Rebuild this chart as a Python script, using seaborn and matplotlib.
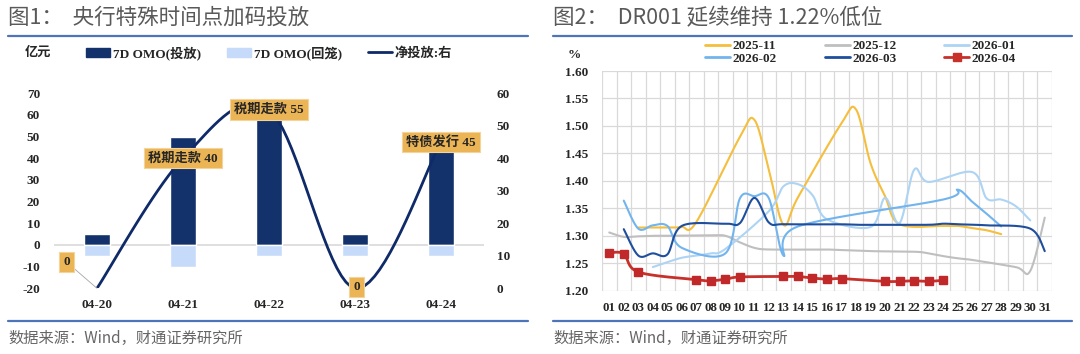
import matplotlib
matplotlib.use("Agg")
import matplotlib.pyplot as plt
import numpy as np
import pandas as pd
import seaborn as sns
from matplotlib.lines import Line2D
from matplotlib.patches import Patch

# ---- 图1 数据 ----
dates = ["04-20", "04-21", "04-22", "04-23", "04-24"]
omo_inject = [5, 50, 60, 5, 50]
omo_mature = [-5, -10, -5, -5, -5]
net_inject = [0, 40, 55, 0, 45]
net_notes = ["0", "税期走款 40", "税期走款 55", "0", "特债发行 45"]

# ---- 图2 数据 (DR001, %) ----
days = [f"{d:02d}" for d in range(1, 32)]
nov25 = [None, None, 1.315, 1.315, 1.315, 1.316, 1.325, None, None, 1.480, 1.511,
         1.420, 1.320, 1.370, None, None, 1.505, 1.530, 1.432, 1.372, 1.321, None,
         None, 1.318, 1.318, 1.314, 1.310, 1.303, None, None, None]
dec25 = [1.306, 1.298, 1.299, 1.300, 1.300, None, None, 1.301, 1.300, 1.288, 1.278,
         1.275, None, None, 1.275, 1.275, 1.274, 1.273, 1.272, None, None, 1.271,
         1.268, 1.263, 1.259, 1.256, None, None, 1.243, 1.236, 1.333]
jan26 = [None, None, None, 1.243, 1.252, 1.260, 1.264, 1.268, 1.276, None, None,
         1.345, 1.390, 1.394, 1.374, 1.330, None, None, 1.316, 1.369, 1.323, 1.420,
         1.398, None, None, 1.416, 1.368, 1.366, 1.354, 1.328, None]
feb26 = [None, 1.364, 1.313, 1.319, 1.318, 1.278, None, None, 1.268, 1.368, 1.372,
         1.368, 1.264, 1.317, None, None, None, None, None, None, None, None, None,
         1.366, 1.384, 1.362, 1.340, 1.317, None, None, None]
mar26 = [None, 1.312, 1.264, 1.268, 1.266, 1.318, None, None, 1.322, 1.323, 1.369,
         1.324, 1.321, None, None, 1.321, 1.321, 1.320, 1.320, 1.320, None, None,
         1.320, 1.322, 1.321, 1.320, 1.319, None, None, 1.313, 1.272]
apr26 = [1.269, 1.267, 1.234, None, None, None, 1.220, 1.218, 1.221, 1.225, None,
         None, 1.226, 1.226, 1.223, 1.221, 1.222, None, None, 1.217, 1.217, 1.218,
         1.217, 1.219, None, None, None, None, None, None, None]

months = ["2025-11", "2025-12", "2026-01", "2026-02", "2026-03", "2026-04"]
month_colors = ["#F5BE3C", "#BFBFBF", "#ADD4F4", "#72B4EE", "#1F4E9D", "#C8302A"]

SERIF = ["Liberation Serif", "Noto Sans CJK SC"]
SANS = ["Noto Sans CJK SC", "DejaVu Sans"]


def smooth(xs, ys, sx, sy, n=20):
    # Excel 式平滑线：Bezier 控制点取相邻点差的 1/6，按像素比例计算
    P = np.column_stack([np.asarray(xs, float) * sx, np.asarray(ys, float) * sy])
    P = np.vstack([P[0], P, P[-1]])
    t = np.linspace(0, 1, n)[:, None]
    segs = []
    for i in range(1, len(P) - 2):
        p0, p1, p2, p3 = P[i - 1], P[i], P[i + 1], P[i + 2]
        c1 = p1 + (p2 - p0) / 6
        c2 = p2 - (p3 - p1) / 6
        seg = (1 - t) ** 3 * p1 + 3 * (1 - t) ** 2 * t * c1 + 3 * (1 - t) * t ** 2 * c2 + t ** 3 * p2
        segs.append(seg if i == 1 else seg[1:])
    C = np.vstack(segs)
    return C[:, 0] / sx, C[:, 1] / sy


sns.set_theme(style="white")
plt.rcParams["font.family"] = SERIF
plt.rcParams["axes.unicode_minus"] = False

fig = plt.figure(figsize=(10.8, 3.54), dpi=100)
W, H = 1080, 354


def fx(px):
    return px / W


def fy(py):
    return 1 - py / H


# ---------------- 图1 ----------------
ax = fig.add_axes([fx(54), fy(288.3), fx(430), (288.3 - 93.3) / H])
df1 = pd.DataFrame({"date": dates, "inject": omo_inject, "mature": omo_mature})
sns.barplot(data=df1, x="date", y="inject", color="#13326B", width=0.31,
            saturation=1, ax=ax, zorder=2)
sns.barplot(data=df1, x="date", y="mature", color="#C6DBF9", width=0.31,
            saturation=1, ax=ax, zorder=2)
ax.axhline(0, color="#D9D9D9", lw=1.2, zorder=1)
ax.set_xlim(-0.5, 4.5)
ax.set_ylim(-20, 70)
ax.set_yticks(range(-20, 71, 10))
ax.set_xlabel("")
ax.set_ylabel("")
for s in ax.spines.values():
    s.set_visible(False)
ax.tick_params(axis="y", length=0, pad=10, labelsize=9.5)
ax.tick_params(axis="x", length=0, pad=8, labelsize=9.5)
for lab in ax.get_xticklabels() + ax.get_yticklabels():
    lab.set_fontweight("bold")

ax2 = ax.twinx()
ax2.set_ylim(0, 60)
ax2.set_yticks(range(0, 61, 10))
for s in ax2.spines.values():
    s.set_visible(False)
ax2.tick_params(axis="y", length=0, pad=9, labelsize=9.5)
for lab in ax2.get_yticklabels():
    lab.set_fontweight("bold")
sx_, sy_ = smooth(range(len(dates)), net_inject, 86, 3.25)
sns.lineplot(x=sx_, y=sy_, sort=False, estimator=None, color="#0F2A68", lw=2.0,
             ax=ax2, zorder=3)

box = dict(boxstyle="square,pad=0.3", fc="#EBB454", ec="#F3D49A", lw=0.8)
offsets = [(-22, 19), (0, 0), (0, 0), (1, 1), (0, 0)]
for i, (txt, off) in enumerate(zip(net_notes, offsets)):
    arrow = dict(arrowstyle="-", color="#A6A6A6", lw=0.6, shrinkA=0, shrinkB=0) if i == 0 else None
    ax2.annotate(txt, (i, net_inject[i]), xytext=off, textcoords="offset points",
                 ha="center", va="center", fontsize=9.5, fontweight="bold",
                 family=SERIF, bbox=box, arrowprops=arrow, zorder=5)

fig.text(fx(38), fy(53), "亿元", ha="center", va="center", fontsize=9.5,
         fontweight="bold", family=SERIF)
h1 = [Patch(color="#13326B"), Patch(color="#C6DBF9"), Line2D([], [], color="#0F2A68", lw=2)]
fig.legend(h1, ["7D OMO(投放)", "7D OMO(回笼)", "净投放:右"], ncol=3,
           loc="center left", bbox_to_anchor=(fx(81), fy(53)), frameon=False,
           prop=dict(family=SERIF, size=9.5, weight="bold"), handlelength=1.8,
           handletextpad=0.2, columnspacing=2.0, borderaxespad=0)

# ---------------- 图2 ----------------
bx = fig.add_axes([fx(602), fy(290.7), fx(450), 219.7 / H])
series = [nov25, dec25, jan26, feb26, mar26, apr26]
for name, vals, col in zip(months, series, month_colors):
    pts = [(i, v) for i, v in enumerate(vals) if v is not None]
    xi, yi = zip(*pts)
    cx, cy = smooth(xi, yi, 14.52, 549)
    lw = 2.0 if name == "2026-04" else 1.5
    sns.lineplot(x=cx, y=cy, sort=False, estimator=None, color=col, lw=lw, ax=bx,
                 zorder=3)
    if name == "2026-04":
        bx.plot(xi, yi, ls="none", marker="s", ms=5.5, color="#C0282A", zorder=4)

bx.set_xlim(-0.5, 30.5)
bx.set_ylim(1.20, 1.60)
bx.set_yticks(np.arange(1.20, 1.601, 0.05))
bx.set_yticklabels([f"{v:.2f}" for v in np.arange(1.20, 1.601, 0.05)])
bx.set_xticks(range(31))
bx.set_xticklabels(days)
bx.set_xticks(np.arange(-0.5, 31, 1), minor=True)
bx.grid(False)
bx.grid(True, axis="y", which="major", color="#D9D9D9", lw=0.9, zorder=0)
bx.grid(True, axis="x", which="minor", color="#D9D9D9", lw=0.9, zorder=0)
for s in bx.spines.values():
    s.set_visible(False)
bx.tick_params(axis="both", which="both", length=0)
bx.tick_params(axis="y", pad=10, labelsize=9.5)
bx.tick_params(axis="x", pad=8, labelsize=9.3)
for lab in bx.get_xticklabels() + bx.get_yticklabels():
    lab.set_fontweight("bold")

fig.text(fx(574), fy(55), "%", ha="center", va="center", fontsize=9.5,
         fontweight="bold", family=SERIF)
h2 = []
for name, col in zip(months, month_colors):
    if name == "2026-04":
        h2.append(Line2D([], [], color=col, lw=2, marker="s", ms=5.5))
    else:
        h2.append(Line2D([], [], color=col, lw=2))
order = [0, 3, 1, 4, 2, 5]
fig.legend([h2[i] for i in order], [months[i] for i in order], ncol=3,
           loc="center left", bbox_to_anchor=(fx(700), fy(52.5)), frameon=False,
           prop=dict(family=SERIF, size=9.5, weight="bold"), handlelength=1.9,
           handletextpad=0.2, columnspacing=3.6, labelspacing=0.05, borderaxespad=0)

# ---------------- 标题、分隔线、来源 ----------------
for x0, x1, title in [(8, 528, "图1：  央行特殊时间点加码投放"),
                      (553, 1072, "图2：  DR001 延续维持 1.22%低位")]:
    fig.text(fx(x0), fy(18), title, ha="left", va="center", fontsize=15.5,
             color="#595959", family=SANS)
    fig.add_artist(Line2D([fx(x0), fx(x1)], [fy(35.5)] * 2, color="#4F74BA", lw=1.6))
    fig.add_artist(Line2D([fx(x0), fx(x1)], [fy(321)] * 2, color="#4F74BA", lw=1.6))
    fig.text(fx(x0), fy(338), "数据来源：Wind，财通证券研究所", ha="left", va="center",
             fontsize=11, color="#666666", family=SANS)

fig.savefig("out.png", dpi=100)
